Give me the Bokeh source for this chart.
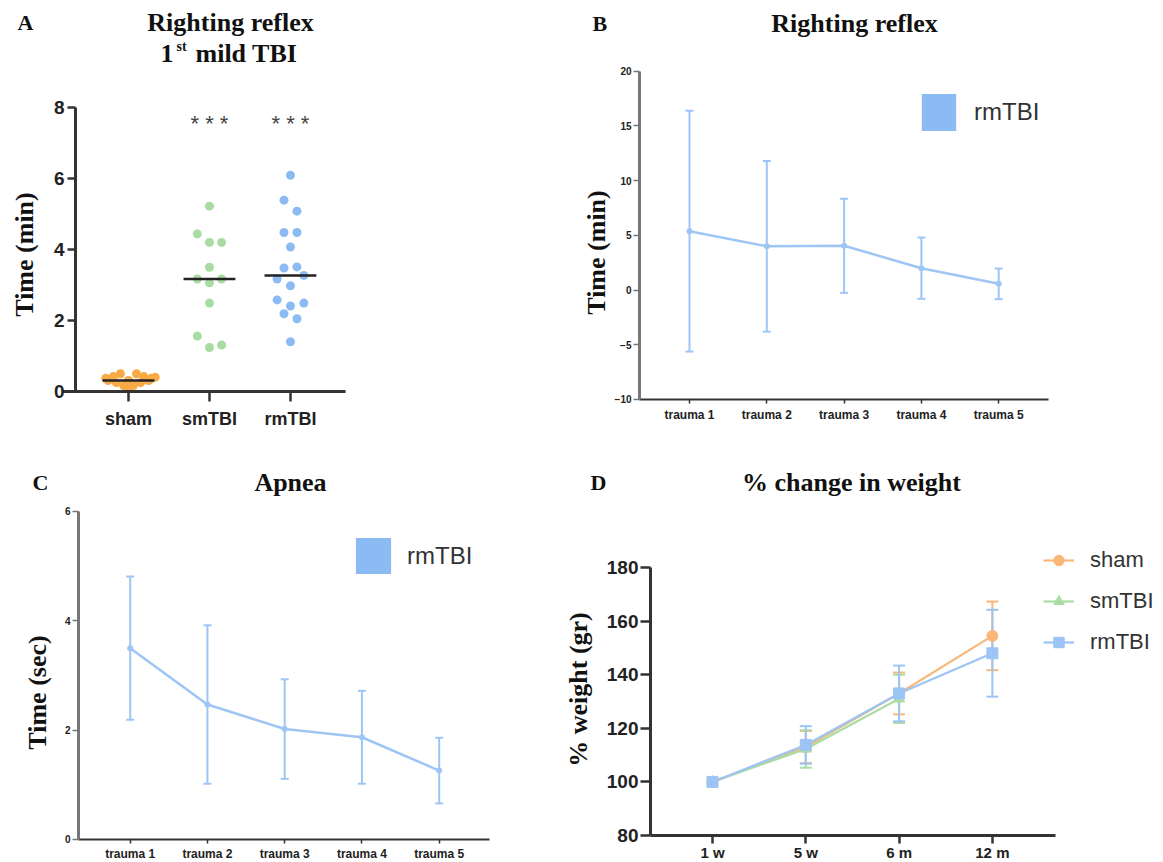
import numpy as np
from bokeh.plotting import figure
from bokeh.models import (Range1d, FixedTicker, Label, Legend, LegendItem,
                          Whisker, TeeHead, ColumnDataSource)
from bokeh.layouts import column, row
from bokeh.core.properties import value
from bokeh.embed import file_html
from bokeh.resources import INLINE

# ---------------- data ----------------
# Panel A: righting reflex after 1st mild TBI (min)
groups_a = ["sham", "smTBI", "rmTBI"]
sham_time = [0.37, 0.42, 0.50, 0.31, 0.50, 0.42, 0.37, 0.40, 0.25, 0.17, 0.08, 0.17, 0.25, 0.31, 0.31]
sham_jitter = [-0.28, -0.19, -0.10, 0.0, 0.10, 0.19, 0.28, 0.33, -0.15, -0.06, 0.0, 0.06, 0.15, -0.25, 0.25]
smtbi_time = [5.22, 4.44, 4.20, 4.20, 3.50, 3.17, 3.06, 3.17, 2.49, 1.56, 1.24, 1.31]
smtbi_jitter = [0, -0.15, 0, 0.15, 0, -0.15, 0, 0.15, 0, -0.15, 0, 0.15]
rmtbi_time = [6.09, 5.39, 5.08, 4.48, 4.48, 4.07, 3.48, 3.51, 3.17, 3.27, 2.98, 2.58, 2.41, 2.49, 2.19, 2.05, 1.40]
rmtbi_jitter = [0, -0.08, 0.08, -0.08, 0.08, 0, -0.08, 0.08, -0.165, 0.165, 0, -0.165, 0, 0.165, -0.08, 0.08, 0]
signif_a = ["", "* * *", "* * *"]
a_ticks = [0, 2, 4, 6, 8]

# Panel B: righting reflex per trauma (min), mean and SD
trauma_labels = ["trauma 1", "trauma 2", "trauma 3", "trauma 4", "trauma 5"]
righting_mean = [5.38, 4.00, 4.05, 2.00, 0.57]
righting_sd = [11.0, 7.8, 4.3, 2.8, 1.4]
b_ticks = [-10, -5, 0, 5, 10, 15, 20]

# Panel C: apnea per trauma (sec), mean and SD
apnea_mean = [3.50, 2.47, 2.02, 1.87, 1.26]
apnea_sd = [1.31, 1.45, 0.91, 0.85, 0.60]
c_ticks = [0, 2, 4, 6]

# Panel D: % weight
time_labels = ["1 w", "5 w", "6 m", "12 m"]
weight_sham = [100, 113.0, 133.0, 154.5]
weight_sham_sd = [0, 6.0, 7.8, 12.8]
weight_smtbi = [100, 112.3, 131.0]
weight_smtbi_sd = [0, 7.0, 9.0]
weight_rmtbi = [100, 113.8, 133.0, 148.0]
weight_rmtbi_sd = [0, 7.0, 10.4, 16.2]
d_ticks = [80, 100, 120, 140, 160, 180]

# ---------------- style ----------------
SERIF = "Liberation Serif"
SANS = "Liberation Sans"
ORANGE = "#F9AA45"
GREEN = "#A8DCA2"
BLUE = "#8CBBF3"
BLUE_L = "#9EC6F5"
D_ORANGE = "#F9B77A"
D_GREEN = "#A9DDA3"
D_BLUE = "#9CC4F4"


def make_fig(w, h, xr, yr):
    # the frame fills the whole canvas; axes are placed with fixed_location
    p = figure(width=w, height=h, x_range=Range1d(*xr), y_range=Range1d(*yr),
               output_backend="svg", toolbar_location=None, title=None,
               min_border_left=0, min_border_right=0,
               min_border_top=0, min_border_bottom=0)
    p.xgrid.visible = False
    p.ygrid.visible = False
    p.outline_line_color = None
    p.background_fill_color = "white"
    p.border_fill_color = "white"
    for ax in (p.xaxis[0], p.yaxis[0]):
        ax.minor_tick_line_color = None
        ax.major_tick_in = 0
        ax.major_label_text_font = SANS
    return p


def add_label(p, sx, sy, text, size, font=SERIF, bold=True, align="center",
              angle=0.0, color="#111111", baseline="middle"):
    p.add_layout(Label(x=sx, y=sy, x_units="screen", y_units="screen", text=text,
                       text_font=font, text_font_size=f"{size}px",
                       text_font_style="bold" if bold else "normal",
                       text_align=align, text_baseline=baseline, angle=angle,
                       text_color=color))


def style_axes(p, yticks, xticks, xlabels, yloc, xloc, ybounds, xbounds,
               y_line, x_line, y_lw, x_lw, y_tick_out, x_tick_out,
               y_font, x_font, y_stand, x_stand, tick_lw):
    ya, xa = p.yaxis[0], p.xaxis[0]
    ya.fixed_location = yloc
    xa.fixed_location = xloc
    ya.bounds = ybounds
    xa.bounds = xbounds
    ya.ticker = FixedTicker(ticks=yticks)
    xa.ticker = FixedTicker(ticks=xticks)
    xa.major_label_overrides = {t: lab for t, lab in zip(xticks, xlabels)}
    ya.axis_line_color = y_line
    ya.axis_line_width = y_lw
    xa.axis_line_color = x_line
    xa.axis_line_width = x_lw
    ya.major_tick_line_color = y_line
    xa.major_tick_line_color = x_line
    ya.major_tick_line_width = tick_lw
    xa.major_tick_line_width = tick_lw
    ya.major_tick_out = y_tick_out
    xa.major_tick_out = x_tick_out
    ya.major_label_text_font_size = f"{y_font}px"
    xa.major_label_text_font_size = f"{x_font}px"
    ya.major_label_text_font_style = "bold"
    xa.major_label_text_font_style = "bold"
    ya.major_label_text_color = "#222222"
    xa.major_label_text_color = "#222222"
    ya.major_label_standoff = y_stand
    xa.major_label_standoff = x_stand


def square_legend(p, xs, ys, loc, gw, gh, standoff):
    # zero-area quad (invisible on the plot) whose legend glyph is the filled square
    r = p.quad(left=xs[:1], right=xs[:1], top=ys[:1], bottom=ys[:1],
               fill_color=BLUE, line_color=None)
    p.add_layout(Legend(items=[LegendItem(label="rmTBI", renderers=[r])],
                        location=loc, glyph_width=gw, glyph_height=gh,
                        label_standoff=standoff, label_text_font=SANS,
                        label_text_font_size="24px", label_text_color="#333333",
                        padding=0, margin=0, border_line_color=None,
                        background_fill_alpha=0))


# ---------------- Panel A ----------------
pa = make_fig(370, 445, (-0.580, 3.988), (-1.521, 11.014))
cat_pos = list(range(1, len(groups_a) + 1))
a_xaxis = (0.185, 3.679)
style_axes(pa, a_ticks, cat_pos, groups_a, 0.3457, 0, (0, 8), a_xaxis,
           "#333333", "#333333", 3, 3, 8, 10, 19, 18, 3, 7, 2.5)
pa.segment(x0=[a_xaxis[0]], x1=[a_xaxis[1]], y0=[0], y1=[0],
           line_color="#a0a0a0", line_dash="1 2", line_width=1)
for pos, vals, jit, col in zip(cat_pos, [sham_time, smtbi_time, rmtbi_time],
                               [sham_jitter, smtbi_jitter, rmtbi_jitter],
                               [ORANGE, GREEN, BLUE]):
    xs = [pos + j for j in jit]
    pa.scatter(xs, vals, size=9, fill_color=col, line_color=None)
    med = float(np.median(vals))
    pa.segment(x0=[pos - 0.32], x1=[pos + 0.32], y0=[med], y1=[med],
               line_color="#222222", line_width=2.5)
sig_src = ColumnDataSource(dict(x=cat_pos, y=[7.55] * len(cat_pos), t=signif_a))
pa.text(x="x", y="y", text="t", source=sig_src, text_font=value(SANS),
        text_font_size="22px", text_color="#444444", text_align="center",
        text_baseline="middle")
add_label(pa, 17, 423, "A", 22, align="left")
add_label(pa, 230, 423, "Righting reflex", 26)
add_label(pa, 160, 392, "1", 26, align="left")
add_label(pa, 176, 399, "st", 14, align="left")
add_label(pa, 195, 392, "mild TBI", 26, align="left")
add_label(pa, 24, 191, "Time (min)", 26, angle=np.pi / 2)

# ---------------- Panel B ----------------
pb = make_fig(793, 445, (-3.127, 7.132), (-14.204, 26.461))
tpos = list(range(1, len(trauma_labels) + 1))
style_axes(pb, b_ticks, tpos, trauma_labels, 0.3532, -10, (-10, 20), (0.3532, 5.644),
           "#777777", "#333333", 3, 2, 6, 4, 10, 12, 2, 5, 1.5)
srcb = ColumnDataSource(dict(
    x=tpos, m=righting_mean,
    up=[m + s for m, s in zip(righting_mean, righting_sd)],
    lo=[m - s for m, s in zip(righting_mean, righting_sd)]))
pb.line("x", "m", source=srcb, line_color=BLUE_L, line_width=2.5)
pb.add_layout(Whisker(source=srcb, base="x", upper="up", lower="lo",
                      line_color=BLUE_L, line_width=2,
                      upper_head=TeeHead(size=8, line_color=BLUE_L, line_width=2),
                      lower_head=TeeHead(size=8, line_color=BLUE_L, line_width=2)))
pb.scatter("x", "m", source=srcb, size=6, fill_color=BLUE_L, line_color=None)
square_legend(pb, tpos, righting_mean, (547, 310), 43, 46, 14)
add_label(pb, 222, 422, "B", 22, align="left")
add_label(pb, 484, 422, "Righting reflex", 26)
add_label(pb, 226, 193, "Time (min)", 26, angle=np.pi / 2)

# ---------------- Panel C ----------------
pc = make_fig(532, 417, (-0.679, 6.208), (-0.421, 7.207))
style_axes(pc, c_ticks, tpos, trauma_labels, 0.3307, 0, (0, 6), (0.3307, 5.651),
           "#777777", "#333333", 3, 2, 6, 4, 10, 12, 2, 4, 1.5)
srcc = ColumnDataSource(dict(
    x=tpos, m=apnea_mean,
    up=[m + s for m, s in zip(apnea_mean, apnea_sd)],
    lo=[m - s for m, s in zip(apnea_mean, apnea_sd)]))
pc.line("x", "m", source=srcc, line_color=BLUE_L, line_width=2.5)
pc.add_layout(Whisker(source=srcc, base="x", upper="up", lower="lo",
                      line_color=BLUE_L, line_width=2,
                      upper_head=TeeHead(size=8, line_color=BLUE_L, line_width=2),
                      lower_head=TeeHead(size=8, line_color=BLUE_L, line_width=2)))
pc.scatter("x", "m", source=srcc, size=6, fill_color=BLUE_L, line_color=None)
square_legend(pc, tpos, apnea_mean, (351, 284), 44, 45, 12)
add_label(pc, 32, 380, "C", 22, align="left")
add_label(pc, 290, 380, "Apnea", 26)
add_label(pc, 37, 170, "Time (sec)", 26, angle=np.pi / 2)

# ---------------- Panel D ----------------
pd_ = make_fig(631, 417, (-0.929, 5.834), (69.925, 225.52))
dpos = list(range(1, len(time_labels) + 1))
style_axes(pd_, d_ticks, dpos, time_labels, 0.3355, 80, (80, 180), (0.3355, 4.676),
           "#333333", "#333333", 3, 3, 10, 8, 19, 15, 2, 1, 2.5)
items = []
for name, vals, sds, col, marker in [
        ("sham", weight_sham, weight_sham_sd, D_ORANGE, "circle"),
        ("smTBI", weight_smtbi, weight_smtbi_sd, D_GREEN, "triangle"),
        ("rmTBI", weight_rmtbi, weight_rmtbi_sd, D_BLUE, "square")]:
    xs = dpos[:len(vals)]
    src = ColumnDataSource(dict(x=xs, m=vals))
    lr = pd_.line("x", "m", source=src, line_color=col, line_width=2.2)
    keep = [i for i, s in enumerate(sds) if s > 0]
    esrc = ColumnDataSource(dict(
        x=[xs[i] for i in keep],
        up=[vals[i] + sds[i] for i in keep],
        lo=[vals[i] - sds[i] for i in keep]))
    pd_.add_layout(Whisker(source=esrc, base="x", upper="up", lower="lo",
                           line_color=col, line_width=2,
                           upper_head=TeeHead(size=12, line_color=col, line_width=2),
                           lower_head=TeeHead(size=12, line_color=col, line_width=2)))
    sr = pd_.scatter("x", "m", source=src, size=11, marker=marker,
                     fill_color=col, line_color=col)
    items.append(LegendItem(label=name, renderers=[lr, sr]))
pd_.add_layout(Legend(items=items, location=(511, 207), glyph_width=31,
                      glyph_height=26, label_height=26, spacing=15,
                      label_standoff=16, label_text_font=SANS,
                      label_text_font_size="22px", label_text_color="#333333",
                      padding=0, margin=0, border_line_color=None,
                      background_fill_alpha=0))
add_label(pd_, 58, 380, "D", 22, align="left")
add_label(pd_, 319, 380, "% change in weight", 26)
add_label(pd_, 46, 173, "% weight (gr)", 26, angle=np.pi / 2)

layout = column(row(pa, pb), row(pc, pd_))
open("out.html", "w").write(file_html(layout, INLINE))
